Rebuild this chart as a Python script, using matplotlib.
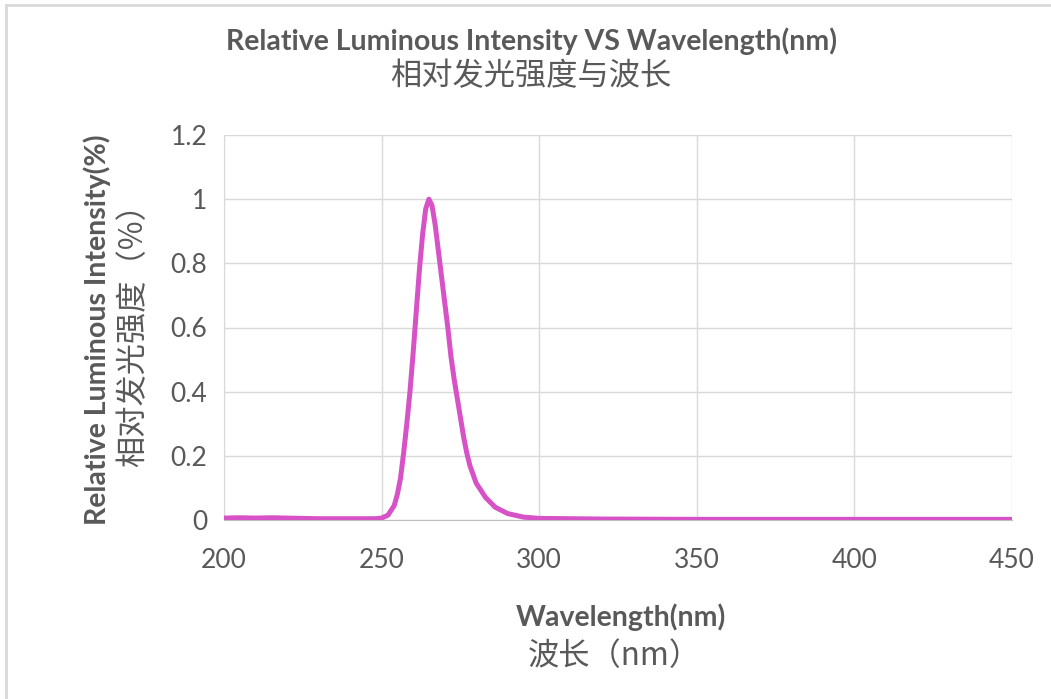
import matplotlib
matplotlib.use("Agg")
import matplotlib.pyplot as plt
from matplotlib.lines import Line2D

# ---- data ----
wavelength = [200, 205, 210, 215, 220, 225, 230, 240, 248, 250, 252, 254, 255, 256, 257, 258, 259,
              260, 261, 262, 263, 264, 265, 266, 267, 268, 269, 270, 271, 272, 273, 274,
              275, 276, 277, 278, 280, 283, 286, 290, 295, 300, 320, 350, 400, 450]
intensity = [0.006, 0.007, 0.006, 0.007, 0.006, 0.005, 0.004, 0.004, 0.004, 0.006, 0.015, 0.045, 0.08, 0.13, 0.21, 0.30, 0.40,
             0.52, 0.65, 0.78, 0.89, 0.97, 1.0, 0.98, 0.92, 0.84, 0.76, 0.68, 0.60, 0.51, 0.44, 0.38,
             0.32, 0.26, 0.21, 0.17, 0.115, 0.07, 0.04, 0.02, 0.009, 0.005, 0.003, 0.002, 0.002, 0.002]
x_ticks = [200, 250, 300, 350, 400, 450]
y_ticks = [0, 0.2, 0.4, 0.6, 0.8, 1.0, 1.2]
y_tick_labels = ["0", "0.2", "0.4", "0.6", "0.8", "1", "1.2"]

title_en = "Relative Luminous Intensity VS Wavelength(nm)"
title_zh = "相对发光强度与波长"
xlabel_en = "Wavelength(nm)"
xlabel_zh = "波长（nm）"
ylabel_en = "Relative Luminous Intensity(%)"
ylabel_zh = "相对发光强度（%）"

TXT = "#595959"
EN = ["Lato", "DejaVu Sans"]
ZH = ["Noto Sans CJK SC", "DejaVu Sans"]

W, H = 1051, 699
fig = plt.figure(figsize=(W / 100, H / 100), dpi=100)
fig.patch.set_facecolor("white")

def fx(px):
    return px / W

def fy(py):
    return 1 - py / H

ax = fig.add_axes([fx(224), fy(520), fx(1012) - fx(224), fy(135) - fy(520)])
ax.plot(wavelength, intensity, color="#D652C6", lw=3.6, solid_capstyle="butt", zorder=3)
ax.set_xlim(200, 450)
ax.set_ylim(0, 1.2)
ax.set_xticks(x_ticks)
ax.set_yticks(y_ticks)
ax.set_yticklabels(y_tick_labels)
ax.grid(True, color="#D9D9D9", lw=1.0)
ax.set_axisbelow(True)
for s in ["top", "right"]:
    ax.spines[s].set_visible(False)
ax.spines["left"].set_color("#D9D9D9")
ax.spines["bottom"].set_color("#BFBFBF")
ax.tick_params(length=0, labelsize=19, labelcolor=TXT, pad=12)
ax.tick_params(axis="x", pad=20)
for lab in ax.get_xticklabels() + ax.get_yticklabels():
    lab.set_family(EN)

# titles
fig.text(fx(531), fy(41), title_en, ha="center", va="center", fontsize=20.5, fontweight="bold", color=TXT, family=EN)
fig.text(fx(531), fy(76), title_zh, ha="center", va="center", fontsize=22.5, color=TXT, family=ZH)
# x labels
fig.text(fx(621), fy(617), xlabel_en, ha="center", va="center", fontsize=20.5, fontweight="bold", color=TXT, family=EN)
fig.text(fx(614), fy(656), xlabel_zh, ha="center", va="center", fontsize=22.5, color=TXT, family=ZH)
# y labels
fig.text(fx(97), fy(330), ylabel_en, ha="center", va="center", rotation=90, fontsize=20.5, fontweight="bold", color=TXT, family=EN)
fig.text(fx(133), fy(328), ylabel_zh, ha="center", va="center", rotation=90, fontsize=22.5, color=TXT, family=ZH)

# figure frame (top and left light gray)
fig.add_artist(Line2D([fx(6), 1], [fy(5), fy(5)], color="#D9D9D9", lw=2, transform=fig.transFigure))
fig.add_artist(Line2D([fx(6), fx(6)], [0, fy(5)], color="#D9D9D9", lw=2, transform=fig.transFigure))

fig.savefig("out.png", dpi=100, facecolor="white")
